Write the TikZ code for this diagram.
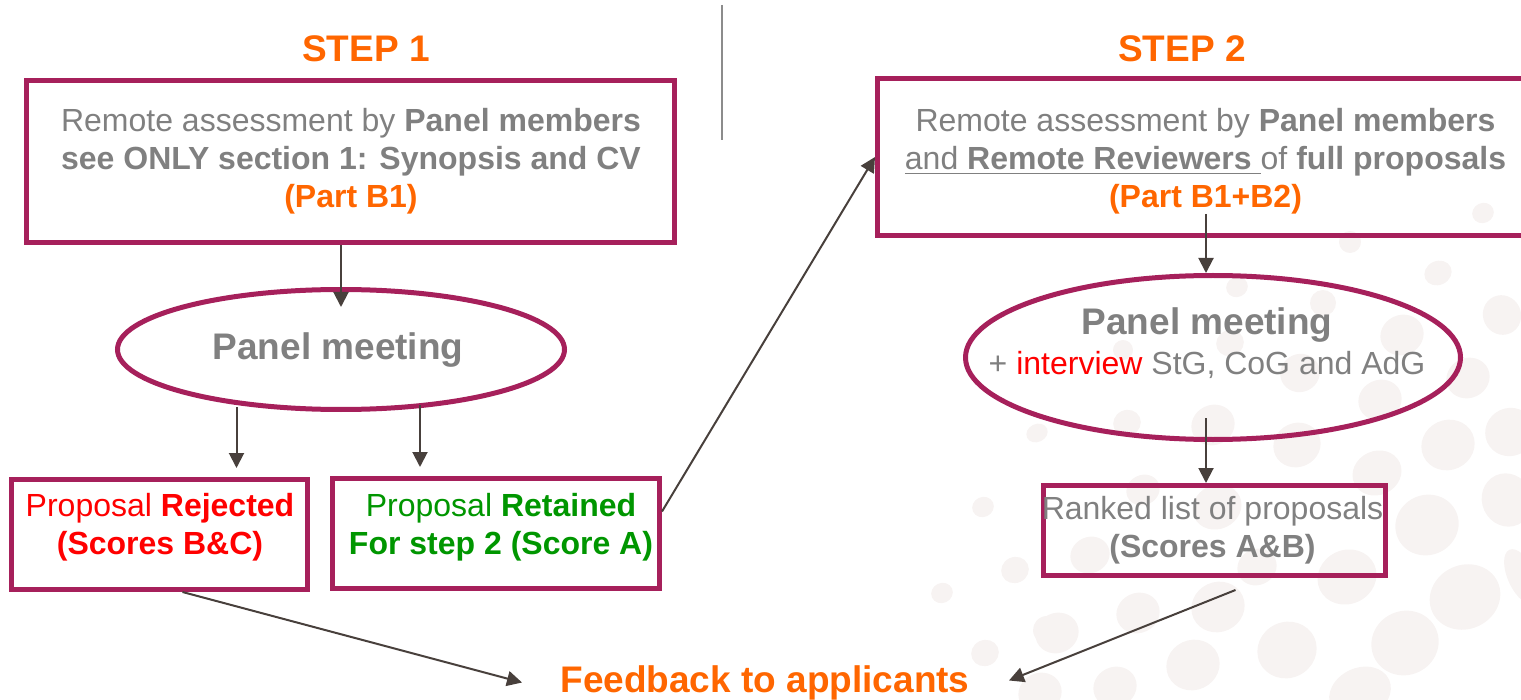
\documentclass[tikz,border=0pt]{standalone}
\usepackage{fontspec}
\setmainfont{Liberation Sans}
\usetikzlibrary{shapes.geometric,arrows.meta}
\definecolor{frame}{RGB}{166,32,91}
\definecolor{txtgrey}{RGB}{128,128,128}
\definecolor{orange1}{RGB}{255,102,0}
\definecolor{red1}{RGB}{255,0,0}
\definecolor{green1}{RGB}{0,150,0}
\definecolor{arrowc}{RGB}{72,64,60}
\definecolor{dotc}{RGB}{247,243,242}
\definecolor{divc}{RGB}{140,140,140}
\begin{document}
\begin{tikzpicture}[x=0.5pt,y=-0.5pt,
  box/.style={draw=frame,line width=2.5pt,rectangle,inner sep=0pt},
  oval/.style={draw=frame,line width=2.5pt,ellipse,inner sep=0pt},
  txt/.style={align=center,inner sep=0pt,text=txtgrey,font=\fontsize{16}{19}\selectfont},
  bigtitle/.style={inner sep=0pt,text=orange1,font=\fontsize{18.5}{22}\selectfont\bfseries},
  conn/.style={draw=arrowc,line width=1pt,-{Triangle[length=7.5pt,width=7.5pt]}}]
\useasboundingbox (0,0) rectangle (1521,700);
\clip (0,0) rectangle (1521,700);
% background dots
\foreach \x/\y/\rx/\ry in {
 1438/273/14/12, 1502/315/19/20, 1468/378/22/20, 1448/445/27/25,
 1510/432/25/24, 1507/500/25/27, 1427/525/32/30, 1465/597/36/32,
 1405/643/34/32, 1522/577/14/30, 1410/332/12/14, 1377/473/25/22,
 1143/490/17/15, 1090/555/20/18, 1217/507/25/22, 1015/570/14/13,
 1347/577/30/27, 1257/567/20/18, 1218/607/27/25, 1138/613/22/20,
 1057/633/22/20, 1287/650/30/28, 1193/665/27/25, 1115/687/22/20,
 1040/693/22/20, 1360/693/32/25, 1237/287/11/10, 1323/303/13/13,
 1402/335/22/20, 1230/343/14/13, 1123/350/10/10, 1300/373/20/19,
 1380/400/22/20, 1213/425/22/20, 1127/423/14/13, 1037/433/11/9,
 1297/445/24/22, 983/507/11/10, 942/593/11/10, 985/653/14/13,
 1483/213/11/10, 1350/242/11/11, 1047/630/14/14}
 {\fill[dotc, rotate around={25:(\x,\y)}] (\x,\y) ellipse [x radius=0.5*\rx pt, y radius=0.5*\ry pt];}
% divider
\draw[divc, line width=1pt] (722,5) -- (722,140);
% titles
\node[bigtitle] (s1) at (366,49) {STEP 1};
\node[bigtitle] (s2) at (1182,49) {STEP 2};
% shapes
\node[box, minimum width=324pt, minimum height=81pt] (b1) at (350.5,161.5) {};
\node[box, minimum width=328.5pt, minimum height=78.5pt] (b2) at (1206,157) {};
\node[oval, minimum width=223.5pt, minimum height=60pt] (e1) at (341,349.5) {};
\node[oval, minimum width=247.5pt, minimum height=82pt] (e2) at (1213,357.5) {};
\node[box, minimum width=148pt, minimum height=55pt] (rej) at (159.5,534.5) {};
\node[box, minimum width=163.5pt, minimum height=55pt] (ret) at (496,533.5) {};
\node[box, minimum width=171pt, minimum height=45pt] (rk) at (1214.5,530.5) {};
% texts
\node[txt] (t1) at (351,161.7) {Remote assessment by \textbf{Panel members}\\
 \textbf{see ONLY section 1: Synopsis and CV}\\
 \textcolor{orange1}{\textbf{(Part B1)}}};
\node[txt] (t2) at (1205.5,161.7) {Remote assessment by \textbf{Panel members}\\
 \underline{and \textbf{Remote Reviewers}\ }of \textbf{full proposals}\\
 \textcolor{orange1}{\textbf{(Part B1+B2)}}};
\node[txt, font=\fontsize{18.5}{22}\selectfont\bfseries] (te1) at (338,350.5) {Panel meeting};
\node[txt, font=\fontsize{16}{20}\selectfont] (te2) at (1207,343) {{\fontsize{18.5}{20}\selectfont\bfseries Panel meeting}\\
 + \textcolor{red1}{interview} StG, CoG and AdG};
\node[txt, text=red1] (trej) at (160,527.7) {Proposal \textbf{Rejected}\\ \textbf{(Scores B\&C)}};
\node[txt, text=green1] (tret) at (501,527.7) {Proposal \textbf{Retained}\\ \textbf{For step 2 (Score A)}};
\node[txt] (trk) at (1212.5,530.7) {Ranked list of proposals\\ \textbf{(Scores A\&B)}};
\node[bigtitle] (fb) at (765,682.5) {Feedback to applicants};
% connectors
\draw[conn] (e1.north |- b1.south) -- ([yshift=-10pt]e1.north);
\draw[conn] ([xshift=38.5pt,yshift=2.5pt]e1.south -| rej.north) -- ([xshift=38.5pt,yshift=4.5pt]rej.north);
\draw[conn] ([xshift=-38pt,yshift=3.5pt]e1.south -| ret.north) -- ([xshift=-38pt,yshift=4.5pt]ret.north);
\draw[conn] ([yshift=11pt]ret.east) -- (b2.west);
\draw[conn] ([yshift=12pt]b2.south) -- (b2.south |- e2.north);
\draw[conn] ([yshift=12pt]e2.south -| b2.south) -- (b2.south |- rk.north);
\draw[conn] ([xshift=11.5pt]rej.south) -- ([xshift=-19pt]fb.west);
\draw[conn] ([xshift=10.5pt,yshift=-6pt]rk.south) -- ([xshift=19.5pt,yshift=1pt]fb.east);
\end{tikzpicture}
\end{document}
